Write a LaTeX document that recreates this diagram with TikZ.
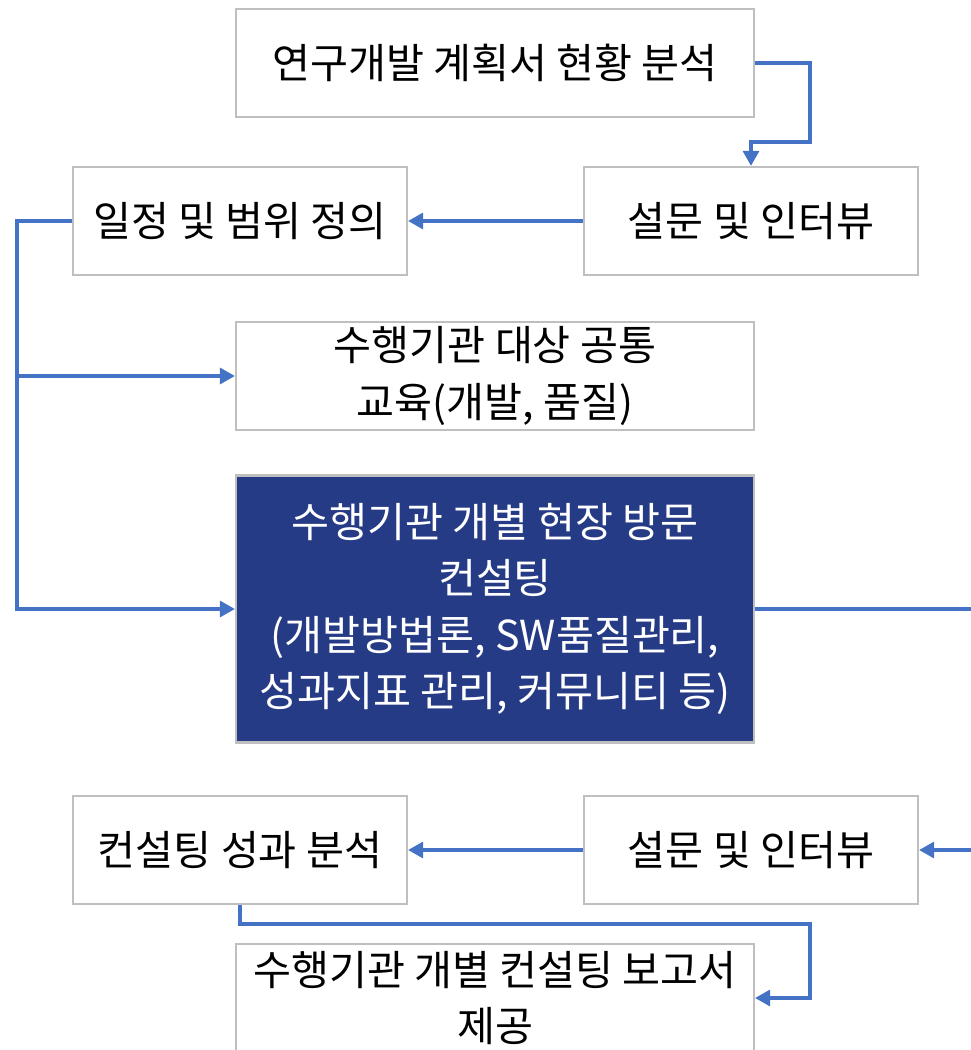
\documentclass[tikz,border=0pt]{standalone}
\usepackage{fontspec}
\setmainfont{Noto Sans CJK KR}
\usetikzlibrary{arrows.meta}

\definecolor{linkblue}{RGB}{68,114,196}
\definecolor{boxgray}{RGB}{191,191,191}
\definecolor{navy}{RGB}{37,59,133}

\tikzset{
	box/.style={draw=boxgray, line width=1.3pt, fill=white, align=center,
		font=\fontsize{23.5}{32}\selectfont, inner sep=0pt},
	wide/.style={box, minimum width=10.36cm, minimum height=2.16cm},
	narrow/.style={box, minimum width=6.68cm, minimum height=2.16cm},
	flow/.style={draw=linkblue, line width=1.8pt, -{Triangle[length=0.3cm,width=0.32cm]}}
}

\begin{document}
\begin{tikzpicture}[x=0.02cm, y=-0.02cm]
	\useasboundingbox (0,0) rectangle (970,1050);
	\node[wide] (plan) at (495,63) {연구개발 계획서 현황 분석};
	\node[narrow] (survey) at (751,221) {설문 및 인터뷰};
	\node[narrow] (scope) at (240,221) {일정 및 범위 정의};
	\node[wide] (edu) at (495,376) {수행기관 대상 공통\\교육(개발, 품질)};
	\node[wide, fill=navy, text=white, minimum height=5.34cm] (visit) at (495,609)
		{수행기관 개별 현장 방문\\컨설팅\\(개발방법론, SW품질관리,\\성과지표 관리, 커뮤니티 등)};
	\node[narrow] (result) at (240,850) {컨설팅 성과 분석};
	\node[narrow] (survey2) at (751,850) {설문 및 인터뷰};
	\node[wide] (report) at (495,998) {수행기관 개별 컨설팅 보고서\\제공};

	\coordinate (bus) at (17,221);
	\coordinate (rim) at (990,609);
	\draw[flow] (plan.east) -| (810,142) -| (survey.north);
	\draw[flow] (survey.west) -- (scope.east);
	\draw[flow] (scope.west) -- (bus) |- (visit.west);
	\draw[flow] (bus) |- (edu.west);
	\draw[flow] (visit.east) -- (rim) |- (survey2.east);
	\draw[flow] (survey2.west) -- (result.east);
	\draw[flow] (result.south) |- (810,924) |- (report.east);
\end{tikzpicture}
\end{document}
